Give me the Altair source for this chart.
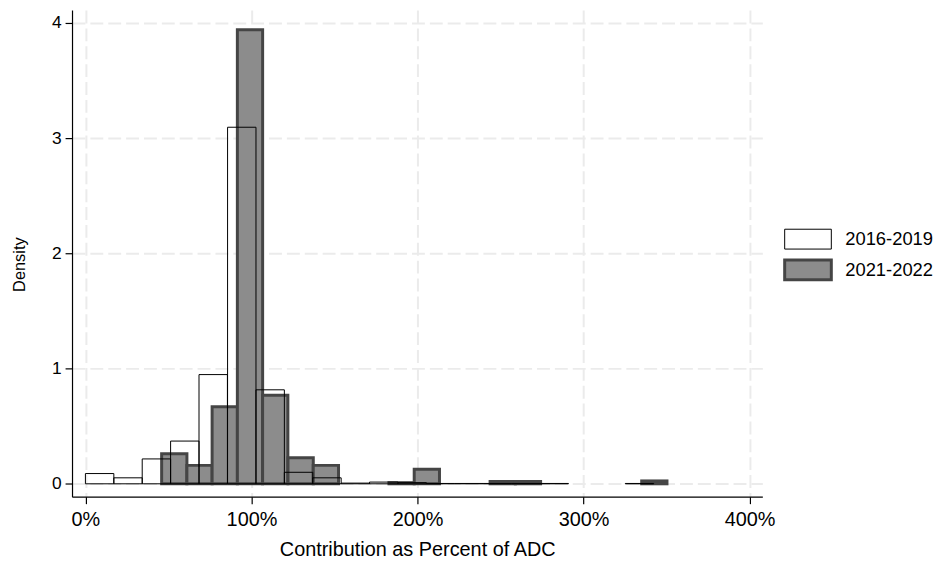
import altair as alt
import pandas as pd

# 2016-2019 histogram (bin lower edges, as fraction of ADC) and densities
bins_1619 = [0.000, 0.171, 0.342, 0.513, 0.684, 0.856, 1.027, 1.198, 1.369, 1.540,
             1.711, 1.882, 2.053, 2.224, 2.395, 2.567, 2.738, 2.909, 3.080, 3.251]
width_1619 = 0.1711
dens_1619 = [0.089, 0.052, 0.216, 0.371, 0.948, 3.095, 0.816, 0.100, 0.052, 0.006,
             0.015, 0.010, 0.003, 0.003, 0.003, 0.003, 0.003, 0.0, 0.0, 0.003]

# 2021-2022 histogram
bins_2122 = [0.459, 0.611, 0.763, 0.915, 1.067, 1.220, 1.372, 1.524, 1.676, 1.828,
             1.980, 2.133, 2.285, 2.437, 2.589, 2.741, 2.893, 3.046, 3.198, 3.350]
width_2122 = 0.1522
dens_2122 = [0.261, 0.160, 0.669, 3.942, 0.769, 0.227, 0.160, 0.0, 0.0, 0.010,
             0.126, 0.0, 0.0, 0.020, 0.020, 0.0, 0.0, 0.0, 0.0, 0.025]

series = ["2016-2019", "2021-2022"]
x_ticks = [0, 1, 2, 3, 4]
y_ticks = [0, 1, 2, 3, 4]

rows = []
# gray series first so the outline-only 2016-2019 bars draw on top
for b, d in zip(bins_2122, dens_2122):
    if d > 0:
        rows.append({"x0": b, "x1": b + width_2122, "y0": 0.0, "y1": d, "series": series[1]})
for b, d in zip(bins_1619, dens_1619):
    if d > 0:
        rows.append({"x0": b, "x1": b + width_1619, "y0": 0.0, "y1": d, "series": series[0]})
df = pd.DataFrame(rows)

FONT = "Liberation Sans"
legend_shape = "M-2.35,-1L2.35,-1L2.35,1L-2.35,1Z"

leg = alt.Legend(
    title=None,
    orient="none",
    legendX=730,
    legendY=220.3,
    symbolType=legend_shape,
    symbolSize=400,
    labelFont=FONT,
    labelFontSize=18.5,
    labelColor="#000000",
    labelOffset=26,
    rowPadding=2,
    padding=0,
)

chart = alt.Chart(df).mark_rect().encode(
    x=alt.X("x0:Q",
            scale=alt.Scale(domain=[-0.0807, 4.0765], nice=False, zero=False),
            axis=alt.Axis(values=x_ticks, format=".0%", title="Contribution as Percent of ADC",
                          labelFontSize=20, titleFontSize=20, labelPadding=6,
                          titlePadding=10, tickSize=7)),
    x2="x1:Q",
    y=alt.Y("y1:Q",
            scale=alt.Scale(domain=[-0.112, 4.112], nice=False, zero=False),
            axis=alt.Axis(values=y_ticks, format="d", title="Density",
                          labelFontSize=17.5, titleFontSize=16.5, labelPadding=4,
                          tickSize=7, titleX=-47.7, titleY=256,
                          titleBaseline="alphabetic")),
    y2="y0:Q",
    fill=alt.Fill("series:N", scale=alt.Scale(domain=series, range=["#ffffff", "#8c8c8c"]), legend=leg),
    stroke=alt.Stroke("series:N", scale=alt.Scale(domain=series, range=["#000000", "#454545"]), legend=leg),
    strokeWidth=alt.StrokeWidth("series:N", scale=alt.Scale(domain=series, range=[1, 3]), legend=leg),
    fillOpacity=alt.FillOpacity("series:N", scale=alt.Scale(domain=series, range=[0, 1]), legend=leg),
).properties(
    width=695.5,
    height=490.3,
    autosize=alt.AutoSizeParams(type="none"),
    padding={"left": 64.5, "top": 0, "right": 180, "bottom": 65},
).configure_axis(
    labelFont=FONT,
    titleFont=FONT,
    labelColor="#000000",
    titleColor="#000000",
    titleFontWeight="normal",
    domainColor="#000000",
    tickColor="#000000",
    domainWidth=1.2,
    tickWidth=1.2,
    gridColor="#ebebeb",
    gridWidth=2,
    gridDash=[13, 5],
).configure_view(
    stroke=None,
).configure_legend(
    labelFont=FONT,
)

chart.save("out.html", embed_options={"renderer": "svg", "actions": False})
